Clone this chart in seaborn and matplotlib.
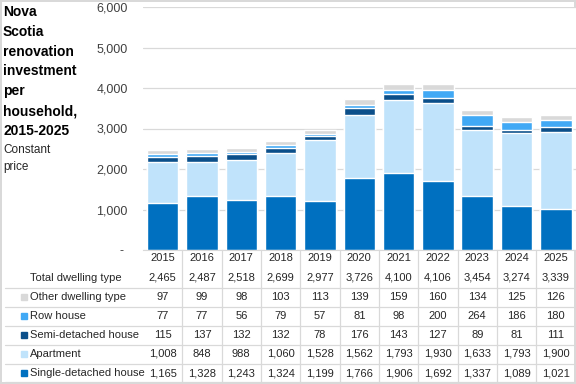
import numpy as np
import matplotlib
matplotlib.use("Agg")
import matplotlib.pyplot as plt
import seaborn as sns
from matplotlib.lines import Line2D
from matplotlib.patches import Rectangle
from matplotlib.ticker import FuncFormatter
from matplotlib.transforms import blended_transform_factory

# Data (constant price, per household)
years = ["2015", "2016", "2017", "2018", "2019", "2020", "2021", "2022", "2023", "2024", "2025"]
single_detached = [1165, 1328, 1243, 1324, 1199, 1766, 1906, 1692, 1337, 1089, 1021]
apartment = [1008, 848, 988, 1060, 1528, 1562, 1793, 1930, 1633, 1793, 1900]
semi_detached = [115, 137, 132, 132, 78, 176, 143, 127, 89, 81, 111]
row_house = [77, 77, 56, 79, 57, 81, 98, 200, 264, 186, 180]
other_dwelling = [97, 99, 98, 103, 113, 139, 159, 160, 134, 125, 126]
total_dwelling = [2465, 2487, 2518, 2699, 2977, 3726, 4100, 4106, 3454, 3274, 3339]

# bottom to top
layers = [
    ("Single-detached house", single_detached, "#0070C0"),
    ("Apartment", apartment, "#C0E3FB"),
    ("Semi-detached house", semi_detached, "#0B4F8A"),
    ("Row house", row_house, "#41A9F5"),
    ("Other dwelling type", other_dwelling, "#D9D9D9"),
]

sns.set_style("white")
plt.rcParams["font.family"] = ["Liberation Sans", "DejaVu Sans"]

W, H = 576, 384
fig = plt.figure(figsize=(5.76, 3.84), dpi=100)
fig.patch.set_edgecolor("#D9D9D9")
fig.patch.set_linewidth(1.5)
ax = fig.add_axes([143 / W, 134 / H, 432.5 / W, 243 / H])

# stacked bars: draw cumulative totals from the top layer down
cum = np.cumsum([np.array(v) for _, v, _ in layers], axis=0)
for i in reversed(range(len(layers))):
    sns.barplot(x=years, y=cum[i], color=layers[i][2], saturation=1,
                width=0.8, ax=ax, zorder=2)

ax.set_ylim(0, 6000)
ax.set_xlim(-0.5, len(years) - 0.5)
ax.set_yticks(range(0, 6001, 1000))
ax.yaxis.set_major_formatter(FuncFormatter(lambda v, p: "- " if v == 0 else f"{int(v):,}"))
ax.yaxis.grid(True, color="#D9D9D9", lw=0.9)
ax.set_axisbelow(True)
ax.set_xticklabels([])
ax.tick_params(length=0, labelsize=9, colors="#404040", pad=11)
ax.set_xlabel("")
ax.set_ylabel("")
for s in ["top", "right", "left"]:
    ax.spines[s].set_visible(False)
ax.spines["bottom"].set_color("#D9D9D9")

# title
fig.text(3 / W, 1 - 5 / H, "Nova\nScotia\nrenovation\ninvestment\nper\nhousehold,\n2015-2025",
         fontsize=10, fontweight="bold", va="top", ha="left", linespacing=1.53, color="black")
fig.text(3 / W, 1 - 144 / H, "Constant\nprice", fontsize=8.5, va="top", ha="left",
         linespacing=1.6, color="#262626")

# data table
trans = blended_transform_factory(ax.transData, fig.transFigure)
tcolor = "#262626"
fs = 8
for i, y in enumerate(years):
    ax.text(i, 1 - 258 / H, y, transform=trans, ha="center", va="center",
            fontsize=fs, color=tcolor, clip_on=False)

rows = [("Total dwelling type", total_dwelling, None)]
rows += [(name, vals, col) for name, vals, col in reversed(layers)]
row_y = [278, 297, 316, 335, 354, 373]
for (name, vals, col), yp in zip(rows, row_y):
    yf = 1 - yp / H
    fig.text(30 / W, yf, name, fontsize=fs, va="center", ha="left", color=tcolor)
    if col is not None:
        fig.add_artist(Rectangle((21 / W, yf - 3 / H), 6 / W, 6 / H,
                                 transform=fig.transFigure, color=col))
    for i, v in enumerate(vals):
        ax.text(i, yf, f"{v:,}", transform=trans, ha="center", va="center",
                fontsize=fs, color=tcolor, clip_on=False)

for yp in [288, 307, 326, 345, 364, 382]:
    fig.add_artist(Line2D([5 / W, 575 / W], [1 - yp / H] * 2,
                          transform=fig.transFigure, color="#D9D9D9", lw=0.9))
for i in range(len(years) - 1):
    ax.add_artist(Line2D([i + 0.5, i + 0.5], [1 - 250 / H, 1 - 383 / H],
                         transform=trans, color="#D9D9D9", lw=0.9, clip_on=False))

fig.savefig("out.png", dpi=100)
